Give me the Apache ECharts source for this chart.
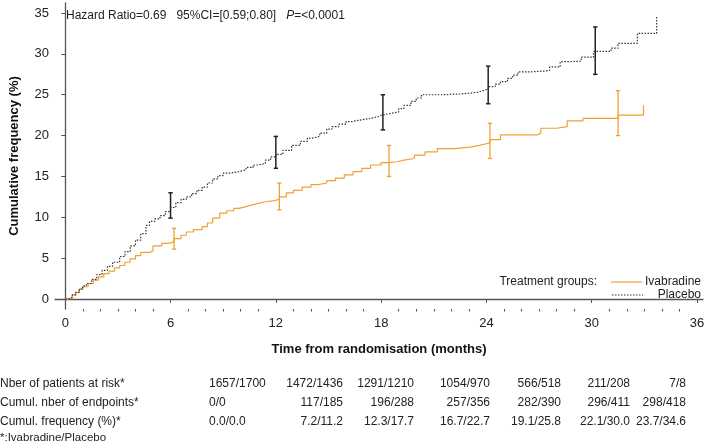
<!DOCTYPE html>
<html><head><meta charset="utf-8">
<script src="https://cdn.jsdelivr.net/npm/echarts@6/dist/echarts.min.js"></script>
<style>html,body{margin:0;padding:0;background:#fff}#c{width:709px;height:442px}</style>
</head><body><div id="c"></div>
<script>
// ---- data ----
const xTicks = [0, 6, 12, 18, 24, 30, 36];
const yTicks = [0, 5, 10, 15, 20, 25, 30, 35];
const ivaT = [0,0.2,0.4,0.6,0.8,1.0,1.3,1.6,1.9,2.2,2.5,2.8,3.1,3.4,3.7,4.0,4.3,4.8,5.0,5.5,5.9,6.2,6.6,6.9,7.3,7.8,8.1,8.4,8.8,9.2,9.6,9.9,10.3,10.6,11.0,11.4,11.8,12.2,12.6,13.0,13.5,14.0,14.4,14.9,15.4,15.9,16.4,16.9,17.4,18.0,18.4,18.9,19.3,19.9,20.5,21.2,22.2,23.1,23.6,24.0,24.2,24.8,26.9,27.1,28.0,28.6,29.5,31.5,32.95];
const ivaY = [0,0.2,0.5,0.8,1.2,1.5,1.9,2.3,2.7,3.1,3.4,3.8,4.1,4.5,4.9,5.3,5.7,5.9,6.5,6.8,7.0,7.4,7.8,8.2,8.5,8.85,9.3,9.9,10.5,10.8,11.1,11.3,11.5,11.7,11.9,12.0,12.2,12.5,13.0,13.3,13.7,14.0,14.2,14.5,14.8,15.2,15.6,16.0,16.4,16.7,16.8,17.0,17.2,17.6,18.0,18.4,18.6,18.8,19.0,19.1,19.5,20.1,20.3,20.9,21.1,21.8,22.1,22.5,23.7];
const plaT = [0,0.2,0.4,0.6,0.8,1.0,1.2,1.5,1.8,2.1,2.4,2.7,3.1,3.4,3.7,4.0,4.3,4.6,4.8,5.1,5.4,5.7,6.0,6.3,6.6,6.9,7.2,7.5,7.8,8.1,8.4,8.7,9.0,9.4,9.9,10.3,10.7,11.0,11.4,11.7,12.0,12.4,12.9,13.4,13.8,14.1,14.5,14.9,15.2,15.6,16.0,16.3,16.8,17.4,17.8,18.0,18.5,19.0,19.3,19.7,20.0,20.3,21.5,22.5,23.1,23.5,23.8,24.1,24.5,24.8,25.2,25.5,25.8,26.5,27.3,27.6,28.2,28.6,29.4,30.1,31.1,31.5,32.6,33.7];
const plaY = [0,0.2,0.5,0.8,1.2,1.6,1.9,2.4,3.0,3.5,4.0,4.5,5.2,5.8,6.5,7.2,8.0,9.0,9.5,9.8,10.2,10.7,11.2,11.8,12.2,12.5,12.9,13.3,13.7,14.2,14.7,15.1,15.4,15.6,15.8,16.1,16.4,16.6,17.0,17.4,17.7,18.2,18.8,19.3,19.7,19.9,20.3,20.8,21.1,21.4,21.7,21.9,22.1,22.3,22.5,22.7,22.9,23.3,23.7,24.2,24.6,25.0,25.1,25.2,25.3,25.5,25.7,26.0,26.3,26.6,27.0,27.4,27.8,27.9,28.0,28.4,29.05,29.1,29.6,30.3,30.7,31.3,32.5,34.6];
const ivaCiT = [6.2, 12.2, 18.45, 24.2, 31.5];
const ivaCiLo = [6.1, 10.9, 15.0, 17.2, 20.0];
const ivaCiHi = [8.65, 14.2, 18.8, 21.5, 25.5];
const plaCiT = [6.0, 12.0, 18.1, 24.1, 30.2];
const plaCiLo = [9.9, 16.0, 20.7, 23.9, 27.5];
const plaCiHi = [13.0, 19.9, 25.0, 28.5, 33.3];
const tableRows = ['Nber of patients at risk*', 'Cumul. nber of endpoints*', 'Cumul. frequency (%)*'];
const atRisk = ['1657/1700','1472/1436','1291/1210','1054/970','566/518','211/208','7/8'];
const endpoints = ['0/0','117/185','196/288','257/356','282/390','296/411','298/418'];
const cumFreq = ['0.0/0.0','7.2/11.2','12.3/17.7','16.7/22.7','19.1/25.8','22.1/30.0','23.7/34.6'];
const footnote = '*:Ivabradine/Placebo';

// ---- chart ----
const ORANGE = '#F0A133', DARK = '#333333', AX = '#555555';
const FONT = '"Liberation Sans", Arial, sans-serif';
const chart = echarts.init(document.getElementById('c'), null, {renderer: 'canvas'});
const zip = (a, b) => a.map((v, i) => [v, b[i]]);
const ciData = (t, lo, hi) => t.map((v, i) => [v, lo[i], hi[i]]);
function ciRender(color, w) {
  return function (params, api) {
    const x = api.value(0);
    const p1 = api.coord([x, api.value(1)]);
    const p2 = api.coord([x, api.value(2)]);
    const c = 2.2;
    const st = {stroke: color, lineWidth: w};
    return {type: 'group', children: [
      {type: 'line', shape: {x1: p1[0], y1: p1[1], x2: p2[0], y2: p2[1]}, style: st},
      {type: 'line', shape: {x1: p1[0]-c, y1: p1[1], x2: p1[0]+c, y2: p1[1]}, style: st},
      {type: 'line', shape: {x1: p2[0]-c, y1: p2[1], x2: p2[0]+c, y2: p2[1]}, style: st}
    ]};
  };
}
const colRight = [null, 343, 414, 490, 561, 630, 686];
const rowY = [384, 403, 422];
const graphics = [];
[atRisk, endpoints, cumFreq].forEach((row, r) => {
  graphics.push({type: 'text', x: 0, y: rowY[r], style: {text: tableRows[r], font: '12px ' + FONT, fill: '#222', textVerticalAlign: 'middle'}});
  row.forEach((s, i) => {
    if (i === 0) graphics.push({type: 'text', x: 209, y: rowY[r], style: {text: s, font: '12px ' + FONT, fill: '#222', textAlign: 'left', textVerticalAlign: 'middle'}});
    else graphics.push({type: 'text', x: colRight[i], y: rowY[r], style: {text: s, font: '12px ' + FONT, fill: '#222', textAlign: 'right', textVerticalAlign: 'middle'}});
  });
});
graphics.push({type: 'text', x: 0, y: 438, style: {text: footnote, font: '11.5px ' + FONT, fill: '#222', textVerticalAlign: 'middle'}});
graphics.push({type: 'text', x: 66, y: 16, style: {
  text: 'Hazard Ratio=0.69   95%CI=[0.59;0.80]   {i|P}=<0.0001', font: '12px ' + FONT, fill: '#222', textVerticalAlign: 'middle',
  rich: {i: {fontStyle: 'italic', fontSize: 12, fontFamily: FONT, fill: '#222'}}}});
// legend
graphics.push({type: 'text', x: 597, y: 282, style: {text: 'Treatment groups:', font: '12px ' + FONT, fill: '#222', textAlign: 'right', textVerticalAlign: 'middle'}});
graphics.push({type: 'line', shape: {x1: 611, y1: 282, x2: 642, y2: 282}, style: {stroke: ORANGE, lineWidth: 1.2}});
graphics.push({type: 'text', x: 701, y: 282, style: {text: 'Ivabradine', font: '12px ' + FONT, fill: '#222', textAlign: 'right', textVerticalAlign: 'middle'}});
graphics.push({type: 'line', shape: {x1: 612, y1: 295, x2: 643, y2: 295}, style: {stroke: DARK, lineWidth: 1.2, lineDash: [1.5, 1.5]}});
graphics.push({type: 'text', x: 701, y: 295, style: {text: 'Placebo', font: '12px ' + FONT, fill: '#222', textAlign: 'right', textVerticalAlign: 'middle'}});

const minorVals = [];
for (let m = 1; m < 36; m++) if (m % 6) minorVals.push(m);

chart.setOption({
  animation: false,
  textStyle: {fontFamily: FONT},
  grid: {left: 52, right: 6, top: 3, bottom: 133, containLabel: false},
  xAxis: [{
    type: 'value', min: -0.584, max: 36.34,
    name: 'Time from randomisation (months)', nameLocation: 'middle', nameGap: 34,
    nameTextStyle: {fontWeight: 'bold', fontSize: 13, color: '#111', fontFamily: FONT},
    axisLine: {show: true, lineStyle: {color: AX, width: 1.3}},
    axisTick: {show: true, length: 4, lineStyle: {color: AX}, customValues: xTicks},
    axisLabel: {fontSize: 13, color: '#222', margin: 8, customValues: xTicks, fontFamily: FONT},
    splitLine: {show: false}
  }, {
    type: 'value', min: -0.584, max: 36.34, position: 'bottom',
    axisLine: {show: false},
    axisTick: {show: true, length: 2.5, lineStyle: {color: AX}, customValues: minorVals},
    axisLabel: {show: false}, splitLine: {show: false}
  }],
  yAxis: {
    type: 'value', min: -1.224, max: 36.23,
    name: 'Cumulative frequency (%)', nameLocation: 'middle', nameGap: 34,
    nameTextStyle: {fontWeight: 'bold', fontSize: 13, color: '#111', fontFamily: FONT},
    axisLine: {show: true, lineStyle: {color: AX, width: 1.3}},
    axisTick: {show: true, length: 4, lineStyle: {color: AX}, customValues: yTicks},
    axisLabel: {fontSize: 13, color: '#222', margin: 6, customValues: yTicks, fontFamily: FONT},
    splitLine: {show: false}
  },
  series: [
    {type: 'line', name: 'Ivabradine', data: zip(ivaT, ivaY), step: 'end', showSymbol: false, symbol: 'none',
     lineStyle: {color: ORANGE, width: 1.2}, z: 3},
    {type: 'line', name: 'Placebo', data: zip(plaT, plaY), step: 'end', showSymbol: false, symbol: 'none',
     lineStyle: {color: DARK, width: 1.2, type: [1.5, 1.5]}, z: 3},
    {type: 'custom', data: ciData(ivaCiT, ivaCiLo, ivaCiHi), renderItem: ciRender(ORANGE, 1.3), z: 4},
    {type: 'custom', data: ciData(plaCiT, plaCiLo, plaCiHi), renderItem: ciRender('#222', 1.5), z: 4}
  ],
  graphic: graphics
});
</script></body></html>
